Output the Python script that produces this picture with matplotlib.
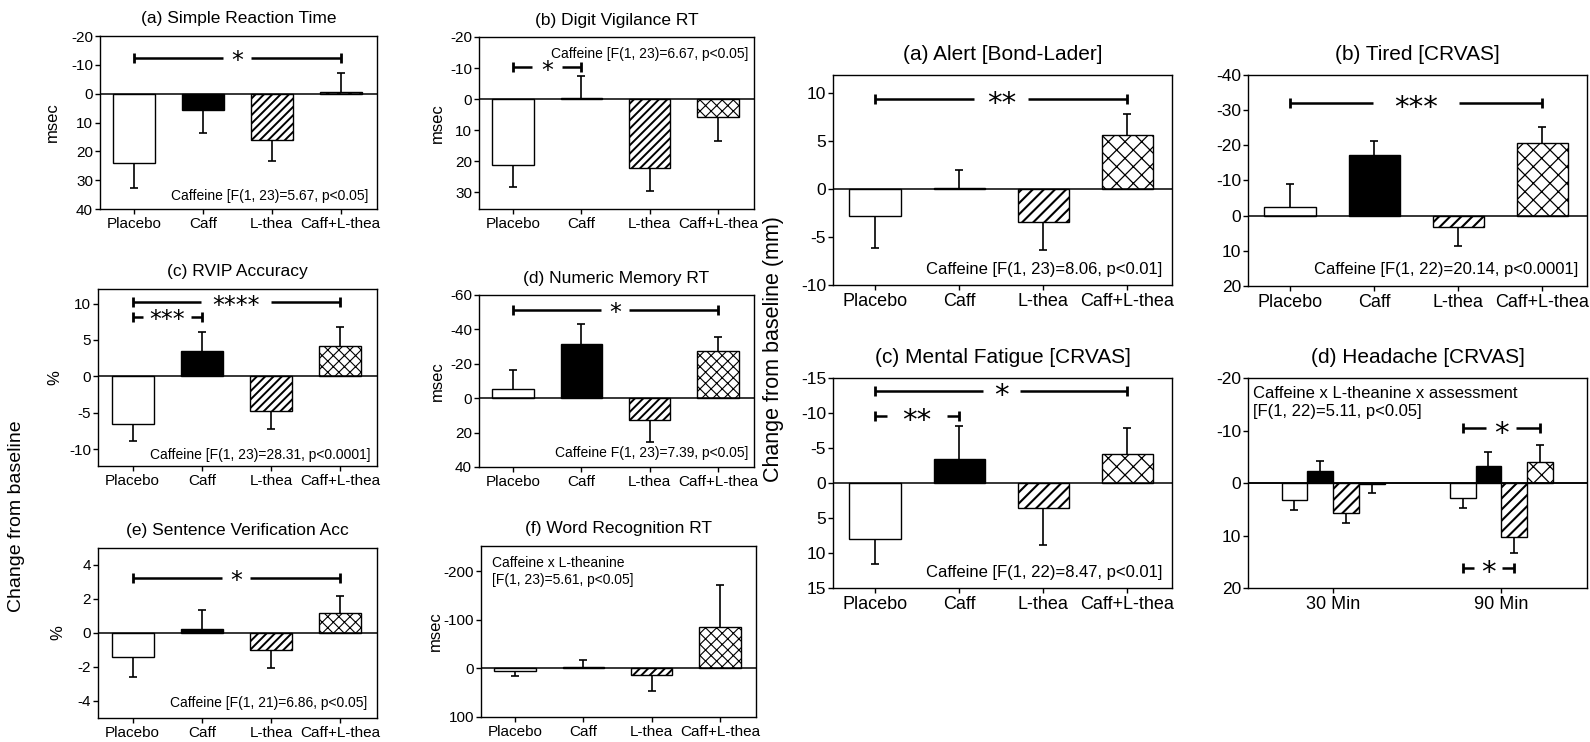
import matplotlib
matplotlib.use("Agg")
import matplotlib.pyplot as plt

plt.rcParams['font.family'] = ['Liberation Sans', 'DejaVu Sans']
plt.rcParams['axes.linewidth'] = 1.0
plt.rcParams['axes.unicode_minus'] = False

W, H = 1590, 742

groups = ["Placebo", "Caff", "L-thea", "Caff+L-thea"]
times = ["30 Min", "90 Min"]

# ---- cognitive measures (left block) ----
srt_mean = [24.2, 5.8, 16.1, -0.7]
srt_sem = [8.6, 7.9, 7.1, 6.4]
dvrt_mean = [21.2, -0.3, 22.2, 5.8]
dvrt_sem = [7.2, 7.0, 7.3, 7.6]
rvip_mean = [-6.6, 3.45, -4.8, 4.15]
rvip_sem = [2.2, 2.6, 2.4, 2.6]
nmrt_mean = [-5.2, -31.8, 12.5, -27.6]
nmrt_sem = [11.2, 11.4, 12.8, 7.8]
sva_mean = [-1.43, 0.22, -1.0, 1.16]
sva_sem = [1.17, 1.16, 1.07, 1.03]
wrrt_mean = [6, -3, 14, -85]
wrrt_sem = [10, 14, 32, 87]

# ---- mood measures (right block) ----
alert_mean = [-2.85, 0.1, -3.4, 5.66]
alert_sem = [3.3, 1.9, 2.9, 2.14]
tired_mean = [-2.4, -17.2, 3.1, -20.8]
tired_sem = [6.5, 4.0, 5.5, 4.4]
fatigue_mean = [8.0, -3.5, 3.6, -4.15]
fatigue_sem = [3.6, 4.6, 5.2, 3.7]
head30_mean = [3.2, -2.2, 5.65, 0.1]
head30_sem = [1.9, 1.9, 1.9, 1.8]
head90_mean = [2.8, -3.2, 10.3, -4.0]
head90_sem = [1.95, 2.7, 3.1, 3.2]

fills = ['white', 'black', 'white', 'white']

fig = plt.figure(figsize=(W / 100, H / 100), dpi=100)


def make_axes(x0, y0, x1, y1):
    return fig.add_axes([x0 / W, 1 - y1 / H, (x1 - x0) / W, (y1 - y0) / H])


def draw_bars(ax, xs, means, sems, width, hatches, hatch_lws):
    for x, m, s, fc, h, hl in zip(xs, means, sems, fills, hatches, hatch_lws):
        with plt.rc_context({'hatch.linewidth': hl}):
            ax.bar(x, m, width, color=fc, edgecolor='black', linewidth=1.0,
                   hatch=h, zorder=2)
        end = m + s if m >= 0 else m - s
        ax.plot([x, x], [m, end], color='black', lw=1.2, zorder=1.5,
                solid_capstyle='butt')
        ax.plot([x], [end], marker='_', ms=6, mew=1.2, color='black', zorder=1.5)
    ax.axhline(0, color='black', lw=1.1, zorder=3)


def style(ax, ylim, yticks, xticks, xlabels, yfs, xfs):
    ax.set_ylim(ylim)
    ax.set_yticks(yticks)
    ax.set_yticklabels([f"{t:g}" for t in yticks])
    ax.set_xticks(xticks)
    ax.set_xticklabels(xlabels)
    ax.tick_params(axis='y', direction='out', length=3.5, width=1, pad=1.5,
                   labelsize=yfs)
    ax.tick_params(axis='x', direction='out', length=3.5, width=1, pad=2,
                   labelsize=xfs)


def bracket(ax, x1, x2, y, stars, half_gap_px, fs):
    xl = ax.get_xlim()
    du = (xl[1] - xl[0]) / (ax.get_position().width * W)
    xc = (x1 + x2) / 2
    g = half_gap_px * du
    ax.plot([x1, xc - g], [y, y], color='black', lw=1.8, solid_capstyle='butt', zorder=4)
    ax.plot([xc + g, x2], [y, y], color='black', lw=1.8, solid_capstyle='butt', zorder=4)
    ax.plot([x1, x2], [y, y], ls='none', marker='|', ms=7.5, mew=2.0, color='black', zorder=4)
    ax.annotate(stars, xy=(xc, y), xytext=(0, -0.45 * fs), textcoords='offset points',
                ha='center', va='baseline', fontsize=fs, family='DejaVu Sans', zorder=4)


def note(ax, text, corner, off_px, ha, va, fs):
    ax.annotate(text, xy=corner, xycoords='axes fraction',
                xytext=(off_px[0] * 0.72, off_px[1] * 0.72), textcoords='offset points',
                ha=ha, va=va, fontsize=fs, linespacing=1.25)


X4 = list(range(len(groups)))
XLIM = (-0.5, 3.53)
L_HATCH = ['', '', '////', 'xxx']
R_HATCH = ['', '', '///', 'xx']
L_HLW = [1, 1, 1.4, 0.8]
R_HLW = [1, 1, 1.5, 0.9]
BW = 0.61

# ---------------- left block ----------------
left_panels = [
    dict(box=(100, 36, 377, 209), mean=srt_mean, sem=srt_sem, ylim=(40, -20),
         yticks=[-20, -10, 0, 10, 20, 30, 40], title="(a) Simple Reaction Time",
         ylabel="msec", lx=-0.144,
         note=("Caffeine [F(1, 23)=5.67, p<0.05]", (1, 0), (-9, 6), 'right', 'bottom'),
         brackets=[(0, 3, -12.5, "*", 14)]),
    dict(box=(479, 37, 754, 209), mean=dvrt_mean, sem=dvrt_sem, ylim=(35.4, -20),
         yticks=[-20, -10, 0, 10, 20, 30], title="(b) Digit Vigilance RT",
         ylabel="msec", lx=-0.124,
         note=("Caffeine [F(1, 23)=6.67, p<0.05]", (1, 1), (-6, -10), 'right', 'top'),
         brackets=[(0, 1, -10.2, "*", 15)]),
    dict(box=(98, 289, 377, 466), mean=rvip_mean, sem=rvip_sem, ylim=(-12.3, 12),
         yticks=[-10, -5, 0, 5, 10], title="(c) RVIP Accuracy",
         ylabel="%", lx=-0.129,
         note=("Caffeine [F(1, 23)=28.31, p<0.0001]", (1, 0), (-7, 4), 'right', 'bottom'),
         brackets=[(0, 3, 10.2, "****", 35), (0, 1, 8.2, "***", 24)]),
    dict(box=(479, 295, 754, 467), mean=nmrt_mean, sem=nmrt_sem, ylim=(40, -60),
         yticks=[-60, -40, -20, 0, 20, 40], title="(d) Numeric Memory RT",
         ylabel="msec", lx=-0.124,
         note=("Caffeine F(1, 23)=7.39, p<0.05]", (1, 0), (-6, 7), 'right', 'bottom'),
         brackets=[(0, 3, -51.4, "*", 14)]),
    dict(box=(98, 548, 377, 718), mean=sva_mean, sem=sva_sem, ylim=(-5, 5),
         yticks=[-4, -2, 0, 2, 4], title="(e) Sentence Verification Acc",
         ylabel="%", lx=-0.118,
         note=("Caffeine [F(1, 21)=6.86, p<0.05]", (1, 0), (-10, 8), 'right', 'bottom'),
         brackets=[(0, 3, 3.26, "*", 14)]),
    dict(box=(481, 546, 756, 717), mean=wrrt_mean, sem=wrrt_sem, ylim=(100, -252),
         yticks=[-200, -100, 0, 100], title="(f) Word Recognition RT",
         ylabel="msec", lx=-0.138,
         note=("Caffeine x L-theanine\n[F(1, 23)=5.61, p<0.05]", (0, 1), (11, -10), 'left', 'top'),
         brackets=[]),
]

for p in left_panels:
    ax = make_axes(*p['box'])
    ax.set_xlim(XLIM)
    draw_bars(ax, X4, p['mean'], p['sem'], BW, L_HATCH, L_HLW)
    style(ax, p['ylim'], p['yticks'], X4, groups, 11, 11)
    ax.set_title(p['title'], fontsize=12.5, pad=9)
    ax.set_ylabel(p['ylabel'], fontsize=12)
    ax.yaxis.set_label_coords(p['lx'], 0.5)
    t, c, o, ha, va = p['note']
    note(ax, t, c, o, ha, va, 10)
    for b in p['brackets']:
        bracket(ax, b[0], b[1], b[2], b[3], b[4], 17)

# ---------------- right block ----------------
right_panels = [
    dict(box=(833, 75, 1172, 285), mean=alert_mean, sem=alert_sem, ylim=(-10, 11.9),
         yticks=[-10, -5, 0, 5, 10], title="(a) Alert [Bond-Lader]",
         note=("Caffeine [F(1, 23)=8.06, p<0.01]", (1, 0), (-10, 8), 'right', 'bottom'),
         brackets=[(0, 3, 9.4, "**", 27)]),
    dict(box=(1248, 75, 1587, 286), mean=tired_mean, sem=tired_sem, ylim=(20, -40),
         yticks=[-40, -30, -20, -10, 0, 10, 20], title="(b) Tired [CRVAS]",
         note=("Caffeine [F(1, 22)=20.14, p<0.0001]", (1, 0), (-9, 9), 'right', 'bottom'),
         brackets=[(0, 3, -32, "***", 43)]),
    dict(box=(833, 378, 1172, 588), mean=fatigue_mean, sem=fatigue_sem, ylim=(15, -15),
         yticks=[-15, -10, -5, 0, 5, 10, 15], title="(c) Mental Fatigue [CRVAS]",
         note=("Caffeine [F(1, 22)=8.47, p<0.01]", (1, 0), (-10, 8), 'right', 'bottom'),
         brackets=[(0, 3, -13.1, "*", 18.5), (0, 1, -9.6, "**", 30)]),
]

for p in right_panels:
    ax = make_axes(*p['box'])
    ax.set_xlim(XLIM)
    draw_bars(ax, X4, p['mean'], p['sem'], BW, R_HATCH, R_HLW)
    style(ax, p['ylim'], p['yticks'], X4, groups, 12.5, 13)
    ax.set_title(p['title'], fontsize=15, pad=11)
    t, c, o, ha, va = p['note']
    note(ax, t, c, o, ha, va, 12)
    for b in p['brackets']:
        bracket(ax, b[0], b[1], b[2], b[3], b[4], 21)

# Headache panel (grouped by assessment time)
ax = make_axes(1248, 378, 1587, 588)
ax.set_xlim(-0.506, 1.51)
hbw = 0.153
offs = [(i - 1.5) * hbw for i in range(4)]
for ti, (m, s) in enumerate([(head30_mean, head30_sem), (head90_mean, head90_sem)]):
    draw_bars(ax, [ti + o for o in offs], m, s, hbw, R_HATCH, R_HLW)
style(ax, (20, -20), [-20, -10, 0, 10, 20], [0, 1], times, 12.5, 13)
ax.set_title("(d) Headache [CRVAS]", fontsize=15, pad=11)
note(ax, "Caffeine x L-theanine x assessment\n[F(1, 22)=5.11, p<0.05]", (0, 1), (5, -8),
     'left', 'top', 12)
bracket(ax, 1 + offs[0], 1 + offs[3], -10.4, "*", 15, 21)
bracket(ax, 1 + offs[0], 1 + offs[2], 16.2, "*", 14, 21)

# shared y labels
fig.text(17 / W, 1 - 516 / H, "Change from baseline", rotation=90, fontsize=14,
         ha='center', va='center')
fig.text(773 / W, 1 - 349 / H, "Change from baseline (mm)", rotation=90, fontsize=15.5,
         ha='center', va='center')

fig.savefig("out.png", dpi=100)
